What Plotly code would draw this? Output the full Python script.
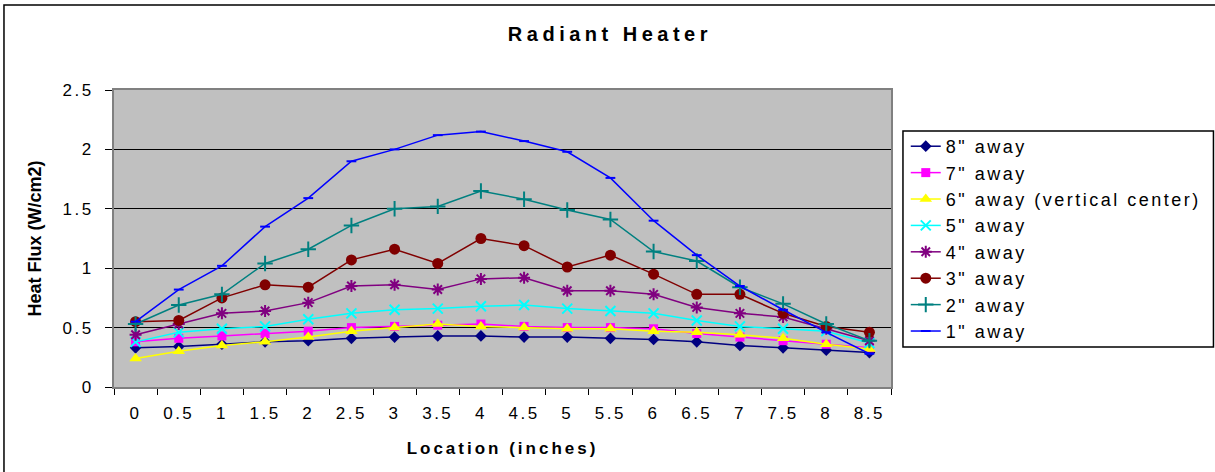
import plotly.graph_objects as go

locations = ["0", "0.5", "1", "1.5", "2", "2.5", "3", "3.5", "4", "4.5",
             "5", "5.5", "6", "6.5", "7", "7.5", "8", "8.5"]

away_8 = [0.33, 0.34, 0.36, 0.38, 0.39, 0.41, 0.42, 0.43, 0.43, 0.42, 0.42, 0.41, 0.40, 0.38, 0.35, 0.33, 0.31, 0.29]
away_7 = [0.38, 0.41, 0.43, 0.45, 0.47, 0.50, 0.51, 0.52, 0.53, 0.51, 0.50, 0.50, 0.49, 0.45, 0.42, 0.39, 0.36, 0.33]
away_6 = [0.24, 0.30, 0.35, 0.38, 0.42, 0.47, 0.50, 0.53, 0.51, 0.50, 0.49, 0.49, 0.47, 0.46, 0.44, 0.41, 0.36, 0.32]
away_5 = [0.38, 0.46, 0.49, 0.51, 0.57, 0.62, 0.65, 0.66, 0.68, 0.69, 0.66, 0.64, 0.62, 0.56, 0.51, 0.49, 0.47, 0.37]
away_4 = [0.44, 0.53, 0.62, 0.64, 0.71, 0.85, 0.86, 0.82, 0.91, 0.92, 0.81, 0.81, 0.78, 0.67, 0.62, 0.59, 0.49, 0.39]
away_3 = [0.55, 0.56, 0.75, 0.86, 0.84, 1.07, 1.16, 1.04, 1.25, 1.19, 1.01, 1.11, 0.95, 0.78, 0.78, 0.62, 0.51, 0.46]
away_2 = [0.53, 0.69, 0.78, 1.04, 1.16, 1.36, 1.50, 1.52, 1.65, 1.58, 1.49, 1.41, 1.14, 1.06, 0.84, 0.70, 0.53, 0.39]
away_1 = [0.55, 0.82, 1.02, 1.35, 1.59, 1.90, 2.00, 2.12, 2.15, 2.07, 1.98, 1.76, 1.40, 1.11, 0.85, 0.65, 0.46, 0.28]

series = [
    ('8" away', away_8, "#000080", "diamond", 9),
    ('7" away', away_7, "#FF00FF", "square", 9),
    ('6" away (vertical center)', away_6, "#FFFF00", "triangle-up", 11),
    ('5" away', away_5, "#00FFFF", "x-thin-open", 10),
    ('4" away', away_4, "#800080", "asterisk-open", 10),
    ('3" away', away_3, "#800000", "circle", 11),
    ('2" away', away_2, "#008080", "cross-thin-open", 11),
    ('1" away', away_1, "#0000FF", "line-ew-open", 7),
]

fig = go.Figure()
for name, vals, col, sym, sz in series:
    fig.add_trace(go.Scatter(
        x=locations, y=vals, name=name, mode="lines+markers",
        line=dict(color=col, width=1.5),
        marker=dict(symbol=sym, size=sz, color=col, line=dict(color=col, width=2 if "open" in sym else 0)),
    ))

font = "Liberation Sans, Arial, sans-serif"

fig.update_layout(
    width=1215, height=472,
    margin=dict(l=114, r=324, t=90, b=85),
    paper_bgcolor="white",
    plot_bgcolor="#C0C0C0",
    font=dict(family=font, size=17, color="black"),
    title=dict(text="<b>Radiant Heater</b>", x=0.502, xanchor="center", y=0.928, yanchor="middle",
               font=dict(size=20)),
    showlegend=True,
    legend=dict(x=1.019, xanchor="left", y=0.872, yanchor="top", bgcolor="rgba(0,0,0,0)",
                borderwidth=0, font=dict(size=18), tracegroupgap=0, itemwidth=30),
    xaxis=dict(
        type="category", range=[-0.5, len(locations) - 0.5],
        tickson="boundaries", ticks="outside", ticklen=6, tickcolor="black",
        showline=True, linecolor="#808080", linewidth=2, mirror=True, showgrid=False,
        ticklabelstandoff=10, automargin=False,
        title=dict(text="<b>Location (inches)</b>", font=dict(size=17), standoff=20),
    ),
    yaxis=dict(
        range=[0, 2.5], dtick=0.5, ticks="outside", ticklen=7, tickcolor="black",
        showline=True, linecolor="#808080", linewidth=2, mirror=True,
        showgrid=True, gridcolor="black", gridwidth=1, zeroline=False,
        ticklabelstandoff=8, automargin=False,
        title=dict(text="<b>Heat Flux (W/cm2)</b>", font=dict(size=18), standoff=24),
    ),
    shapes=[
        # outer chart border (left / top visible)
        dict(type="rect", xref="paper", yref="paper", x0=-0.1416, x1=2, y0=-1, y1=1.286,
             line=dict(color="black", width=1.5), layer="below"),
        # legend box
        dict(type="rect", xref="paper", yref="paper", x0=1.0154, x1=1.415, y0=0.135, y1=0.862,
             line=dict(color="black", width=1.5)),
    ],
)

post = """
document.body.style.margin = '0';
var gd = document.getElementById('{plot_id}');
function spacing(){
  gd.querySelectorAll('.gtitle').forEach(function(e){e.style.letterSpacing='4.5px';});
  gd.querySelectorAll('.xtitle').forEach(function(e){e.style.letterSpacing='3px';});
  gd.querySelectorAll('.xtick text, .ytick text').forEach(function(e){e.style.letterSpacing='2.5px';});
  gd.querySelectorAll('.legendtext').forEach(function(e){e.style.letterSpacing='2.5px';});
  gd.querySelectorAll('.legend .scrollbox').forEach(function(e){e.removeAttribute('clip-path');});
  gd.querySelectorAll('.legend').forEach(function(e){e.removeAttribute('clip-path');});
}
spacing();
gd.on('plotly_afterplot', spacing);
"""

fig.write_html("out.html", post_script=post, config={"displayModeBar": False})
